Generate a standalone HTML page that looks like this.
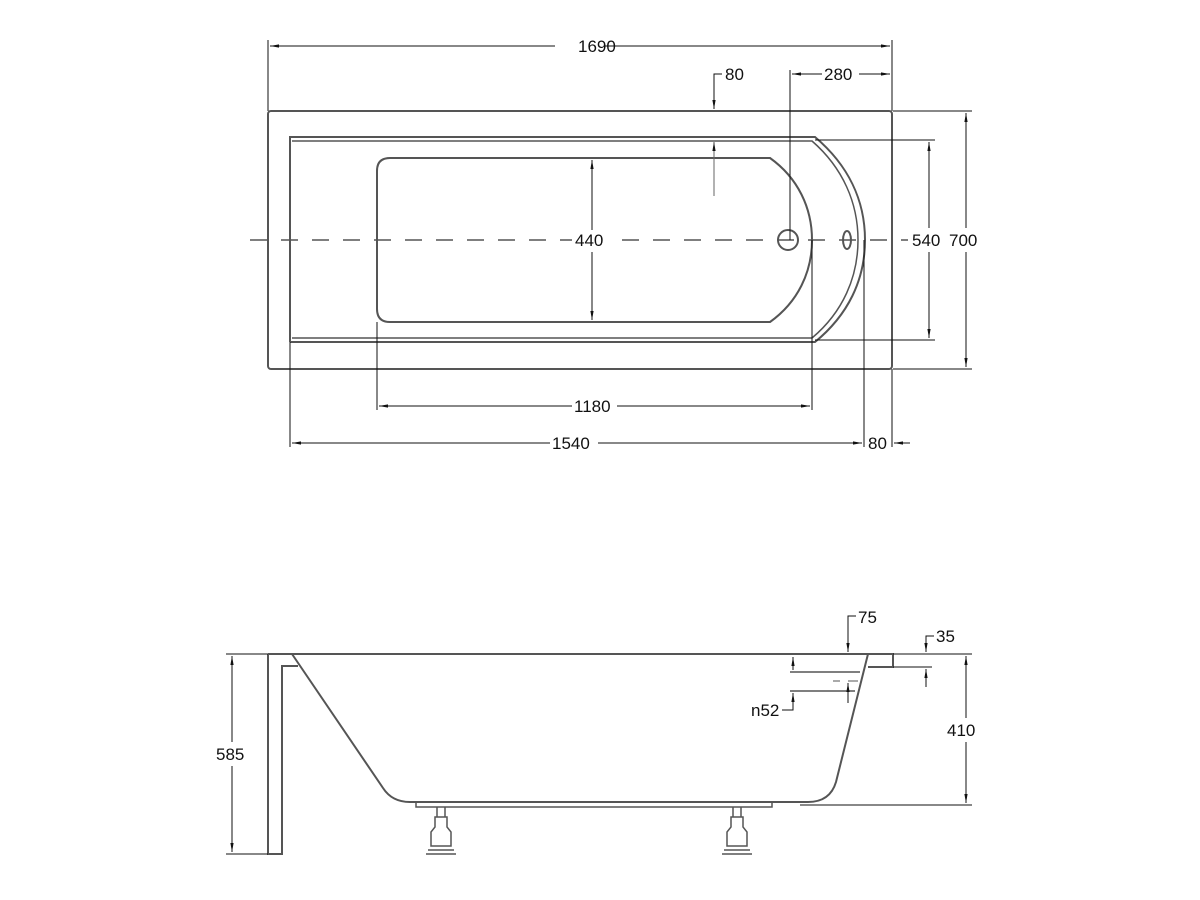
<!DOCTYPE html>
<html><head><meta charset="utf-8"><style>body{margin:0;background:#fff}svg{display:block}text{font-family:"Liberation Sans",sans-serif;font-size:17px;fill:#111}</style></head><body>
<svg width="1200" height="900" viewBox="0 0 1200 900" xmlns="http://www.w3.org/2000/svg">
<defs><marker id="a" viewBox="0 0 10 10" refX="10" refY="5" markerWidth="9" markerHeight="9" orient="auto-start-reverse"><path d="M0,3.2L10,5L0,6.8z" fill="#111"/></marker></defs>
<g fill="none" stroke="#555" stroke-width="2">
<rect x="268" y="111" width="624" height="258" rx="3"/>
<path d="M290,342 V137 H815 C848,165 865,200 865,240 C865,280 848,315 815,342 H290"/>
<path d="M292,141 H812 C843,168 858,203 858,240 C858,277 843,312 812,338 H292" stroke-width="1.5"/>
<path d="M390,158 H770 C798,178 812,208 812,240 C812,272 798,302 770,322 H390 Q377,322 377,309 V171 Q377,158 390,158Z"/>
<circle cx="788" cy="240" r="10"/>
<ellipse cx="847" cy="240" rx="4" ry="9"/>
</g>
<g stroke="#555" stroke-width="1.5" fill="none">
<path d="M250,240 H910" stroke-dasharray="17,14"/>
</g>
<g stroke="#111" stroke-width="1" fill="none">
<path d="M268,40 V111 M892,40 V111 M790,70 V240 M893,111 H972 M815,140 H935 M815,340 H935 M893,369 H972 M377,322 V410 M812,240 V410 M290,342 V447 M864,240 V447 M892,369 V447"/>
<path d="M555,46 H270" marker-end="url(#a)"/><path d="M605,46 H890" marker-end="url(#a)"/>
<path d="M822,74 H792" marker-end="url(#a)"/><path d="M859,74 H890" marker-end="url(#a)"/>
<path d="M722,74 H714 V109" marker-end="url(#a)"/><path d="M714,196 V142" marker-end="url(#a)" stroke="#666"/>
<path d="M929,228 V142" marker-end="url(#a)"/><path d="M929,252 V338" marker-end="url(#a)"/>
<path d="M966,228 V113" marker-end="url(#a)"/><path d="M966,252 V367" marker-end="url(#a)"/>
<path d="M592,230 V160" marker-end="url(#a)"/><path d="M592,252 V320" marker-end="url(#a)"/>
<path d="M572,406 H379" marker-end="url(#a)"/><path d="M617,406 H810" marker-end="url(#a)"/>
<path d="M550,443 H292" marker-end="url(#a)"/><path d="M598,443 H862" marker-end="url(#a)"/>
<path d="M910,443 H894" marker-end="url(#a)"/>
</g>
<g fill="#fff" stroke="none"><rect x="908" y="230" width="70" height="20"/><rect x="572" y="230" width="40" height="20"/></g>
<text x="578" y="52">1690</text><text x="824" y="80">280</text><text x="725" y="80">80</text>
<text x="575" y="246">440</text><text x="912" y="246">540</text><text x="949" y="246">700</text>
<text x="574" y="412">1180</text><text x="552" y="449">1540</text><text x="868" y="449">80</text>
<g fill="none" stroke="#555" stroke-width="2">
<path d="M268,654 H893 V667 H868"/>
<path d="M268,654 V854 H282 V666 H298"/>
<path d="M292,654 L383,788 Q392,802 410,802 H808 Q830,802 836,782 L868,654"/>
<path d="M416,802 V807 H772 V802" stroke-width="1.5"/>
<g stroke-width="1.5">
<path d="M437,807 V817 H445 V807 M435,817 H447 V827 L451,832 V846 H431 V832 L435,827 Z M428,850 H454 M426,854 H456"/>
<path d="M733,807 V817 H741 V807 M731,817 H743 V827 L747,832 V846 H727 V832 L731,827 Z M724,850 H750 M722,854 H752"/>
</g>
<path d="M790,672 H860 M790,691 H855" stroke-width="1.5"/>
<path d="M833,681 H840 M848,681 H858" stroke-width="1"/>
</g>
<g stroke="#111" stroke-width="1" fill="none">
<path d="M226,654 H268 M226,854 H268 M893,654 H972 M800,805 H972 M893,667 H932"/>
<path d="M232,742 V656" marker-end="url(#a)"/><path d="M232,766 V852" marker-end="url(#a)"/>
<path d="M966,718 V656" marker-end="url(#a)"/><path d="M966,742 V803" marker-end="url(#a)"/>
<path d="M856,616 H848 V652" marker-end="url(#a)"/>
<path d="M934,636 H926 V652" marker-end="url(#a)"/><path d="M926,687 V669" marker-end="url(#a)"/>
<path d="M793,657 V670" marker-start="url(#a)"/>
<path d="M782,710 H793 V693" marker-end="url(#a)"/>
<path d="M848,703 V683" marker-end="url(#a)"/>
</g>
<text x="216" y="760">585</text><text x="947" y="736">410</text><text x="858" y="623">75</text><text x="936" y="642">35</text><text x="751" y="716">n52</text>
</svg>
</body></html>
